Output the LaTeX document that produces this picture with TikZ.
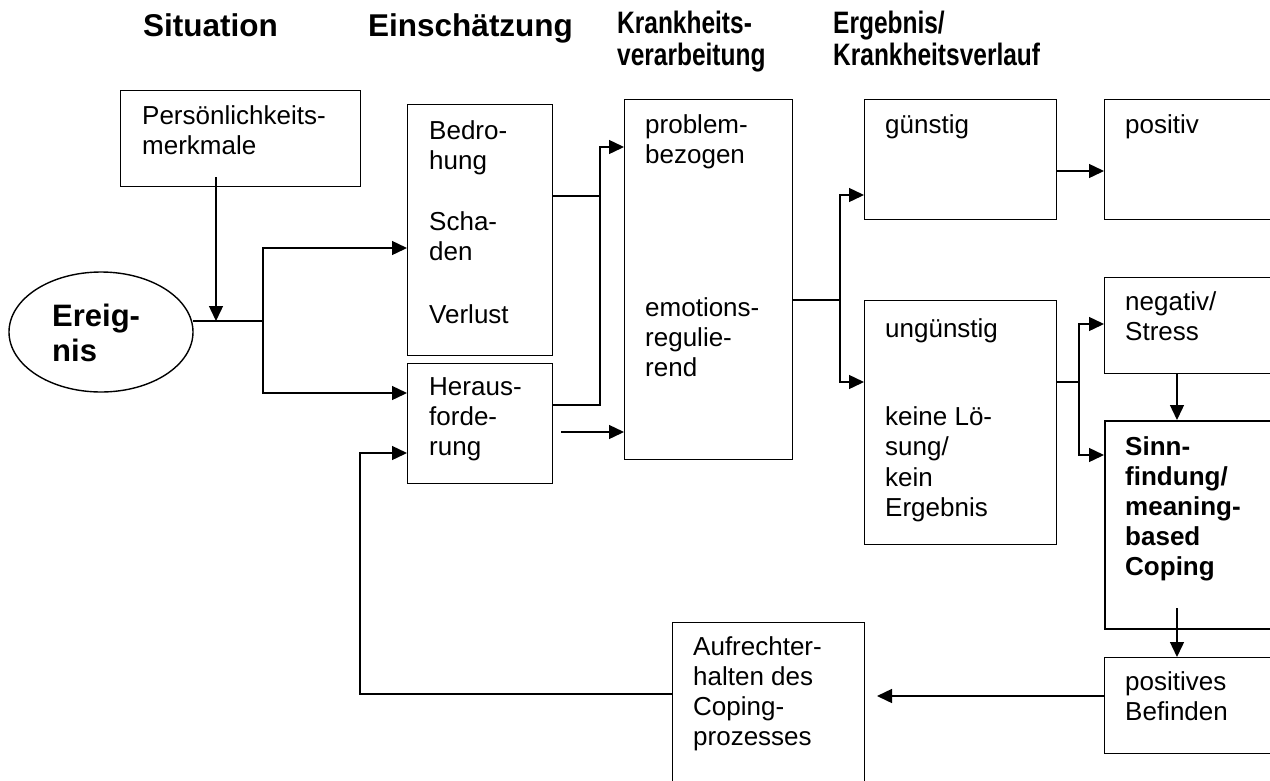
\documentclass[tikz,border=0pt]{standalone}
\usepackage{fontspec}
\setmainfont{Liberation Sans}
\newfontfamily\headnarrow[FakeStretch=0.79]{Liberation Sans}
\usetikzlibrary{arrows.meta,calc,shapes.geometric}

\tikzset{
  line/.style={line width=1.4pt, line cap=rect},
  arr/.style={line, -{Triangle[length=15pt,width=14pt]}},
  box/.style={draw, line width=1.4pt, rectangle, anchor=north west, inner sep=0pt},
  txt/.style={anchor=north west, inner sep=0pt, align=left,
              font=\fontsize{26}{30}\selectfont, execute at begin node=\strut},
  btxt/.style={txt, font=\fontsize{26}{30}\selectfont\bfseries},
  head/.style={anchor=base west, inner sep=0pt, font=\fontsize{31.5}{32}\selectfont\bfseries},
  headn/.style={anchor=north west, inner sep=0pt, align=left,
                font=\fontsize{31}{32}\selectfont\headnarrow\bfseries,
                execute at begin node=\strut},
}

\begin{document}
\begin{tikzpicture}[x=1pt,y=-1pt]
\useasboundingbox (0,0) rectangle (1270,780);
\clip (0,0) rectangle (1270,780);

% column headings
\node[head] (hsit) at (143,36) {Situation};
\node[head] (hein) at (368,36) {Einschätzung};
\node[headn] (hkv) at (617,10.6) {Krankheits-\\verarbeitung};
\node[headn] (herg) at (833,10.6) {Ergebnis/\\Krankheitsverlauf};

% event and appraisal
\node[draw, line width=1.4pt, ellipse, minimum width=184pt, minimum height=120pt, inner sep=0pt] (ev) at (101,332) {};
\node[txt, font=\fontsize{31}{35}\selectfont\bfseries] (evt) at (52,303.5) {Ereig-\\nis};

\node[box, minimum width=240pt, minimum height=96pt] (pm) at (120,90) {};
\node[txt] (pmt) at (142,105) {Persönlichkeits-\\merkmale};

\node[box, minimum width=145pt, minimum height=251pt] (bd) at (407,104) {};
\node[txt] (bd1) at (429,120) {Bedro-\\hung};
\node[txt] (bd2) at (429,211) {Scha-\\den};
\node[txt] (bd3) at (429,302) {Verlust};

\node[box, minimum width=145pt, minimum height=120pt] (hf) at (407,363) {};
\node[txt] (hft) at (429,377) {Heraus-\\forde-\\rung};

% coping
\node[box, minimum width=168pt, minimum height=360pt] (kv) at (624,99) {};
\node[txt] (kv1) at (645,114) {problem-\\bezogen};
\node[txt] (kv2) at (645,297) {emotions-\\regulie-\\rend};

% outcomes
\node[box, minimum width=192pt, minimum height=120pt] (gu) at (864,99) {};
\node[txt] (gut) at (885,112) {günstig};

\node[box, minimum width=192pt, minimum height=244pt] (ug) at (864,300) {};
\node[txt] (ug1) at (885,316) {ungünstig};
\node[txt, font=\fontsize{26}{30.6}\selectfont] (ug2) at (885,406) {keine Lö-\\sung/\\kein\\Ergebnis};

\node[box, minimum width=190pt, minimum height=120pt] (po) at (1104,99) {};
\node[txt] (pot) at (1125,112) {positiv};

\node[box, minimum width=190pt, minimum height=96pt] (ng) at (1104,277) {};
\node[txt] (ngt) at (1125,291) {negativ/\\Stress};

\node[box, line width=2.2pt, minimum width=190pt, minimum height=208pt] (sf) at (1104,420) {};
\node[btxt] (sft) at (1125,436) {Sinn-\\findung/\\meaning-\\based\\Coping};

\node[box, minimum width=190pt, minimum height=96pt] (pb) at (1104,657) {};
\node[txt] (pbt) at (1125,671) {positives\\Befinden};

\node[box, minimum width=192pt, minimum height=190pt] (ac) at (672,622) {};
\node[txt] (act) at (693,636) {Aufrechter-\\halten des\\Coping-\\prozesses};

% junction points
\coordinate (split) at (263,321);
\coordinate (pmdrop) at ($(pm.south west)+(96,-10)$);
\coordinate (m1) at (600,196);
\coordinate (m2) at (600,405);
\coordinate (hfout) at (562,432);
\coordinate (m3) at (840,300);
\coordinate (m4) at (1079,382);
\coordinate (acin) at (877,696);
\coordinate (fb) at (360,694);

% connectors
\draw[line] (split -| ev.east) -- (split);
\draw[arr] (pmdrop) -- (pmdrop |- split);
\draw[arr] (split) |- ($(bd.north west)+(0,144)$);
\draw[arr] (split) |- ($(hf.north west)+(0,30)$);

\draw[line] (bd.east |- m1) -- (m1);
\draw[arr] (hf.east |- m2) -- (m2) |- ($(kv.north west)+(0,48)$);
\draw[arr] (hfout) -- (hfout -| kv.west);

\draw[line] (kv.east |- m3) -- (m3);
\draw[arr] (m3) |- ($(gu.north west)+(0,96)$);
\draw[arr] (m3) |- ($(ug.north west)+(0,82)$);

\draw[arr] ($(gu.north east)+(0,72)$) -- ($(po.north west)+(0,72)$);

\draw[line] (ug.east |- m4) -- (m4);
\draw[arr] (m4) |- ($(ng.north west)+(0,47)$);
\draw[arr] (m4) |- ($(sf.north west)+(0,35)$);

\draw[arr] ($(ng.south west)+(73,0)$) -- ($(sf.north west)+(73,0)$);
\draw[arr] ($(sf.south west)+(73,-22)$) -- ($(pb.north west)+(73,0)$);

\draw[arr] (pb.west |- acin) -- (acin);
\draw[arr] (ac.west |- fb) -- (fb) |- ($(hf.north west)+(0,90)$);
\end{tikzpicture}
\end{document}
